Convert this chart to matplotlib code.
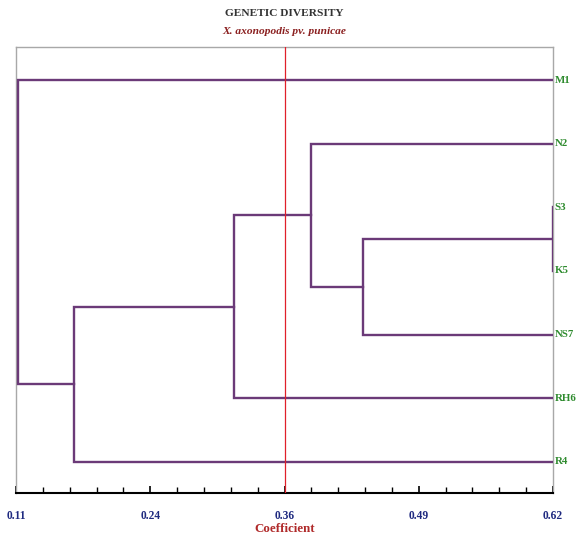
import matplotlib
matplotlib.use("Agg")
from matplotlib import pyplot as plt
import numpy as np

# leaves, top to bottom
leaves = ['M1', 'N2', 'S3', 'K5', 'NS7', 'RH6', 'R4']
# merges: (cluster a, cluster b, coefficient); clusters named by leaf or merge index
merge_a = ['S3', 0, 'N2', 2, 3, 'M1']
merge_b = ['K5', 'NS7', 1, 'RH6', 'R4', 4]
merge_coef = [0.62, 0.44, 0.39, 0.317, 0.165, 0.112]

tick_vals = [0.11, 0.2375, 0.365, 0.4925, 0.62]
tick_labels = ['0.11', '0.24', '0.36', '0.49', '0.62']
cut_value = 0.365

xmax = 0.62
line_col = '#6b3a78'
serif = ['Liberation Serif', 'DejaVu Serif']

fig = plt.figure(figsize=(5.78, 5.41), dpi=100)
ax = fig.add_axes([16/578, 1-493/541, 537/578, 446/541])

pos = {}
for i, name in enumerate(leaves):
	pos[name] = (xmax, i)

for k in range(len(merge_coef)):
	xa, ya = pos[merge_a[k]]
	xb, yb = pos[merge_b[k]]
	c = merge_coef[k]
	ax.plot([xa, c, c, xb], [ya, ya, yb, yb], color=line_col, lw=1.7,
			solid_joinstyle='miter', zorder=3)
	pos[k] = (c, (ya + yb) / 2.0)

ax.axvline(cut_value, color='#e0202a', lw=0.9, zorder=4)

ax.set_xlim(0.11, 0.62)
ax.set_ylim(6.49, -0.52)
ax.set_yticks([])

ax.set_xticks(tick_vals)
ax.set_xticklabels(tick_labels, family=serif, fontweight='bold', fontsize=8.3, color='#1f2a80')
ax.set_xticks(np.arange(0, 21) * 0.0255 + 0.11, minor=True)
ax.tick_params(axis='x', which='major', direction='in', length=5, width=1.2, pad=12, color='black')
ax.tick_params(axis='x', which='minor', direction='in', length=4, width=1.0, color='black')

for s in ['top', 'left', 'right']:
	ax.spines[s].set_color('#a8a8a8')
	ax.spines[s].set_linewidth(1.0)
ax.spines['bottom'].set_color('black')
ax.spines['bottom'].set_linewidth(1.5)

for i, name in enumerate(leaves):
	ax.text(1.003, i, name, transform=ax.get_yaxis_transform(), ha='left', va='center',
			family=serif, fontweight='bold', fontsize=7.8, color='#2e8b2e')

ax.set_xlabel('Coefficient', family=serif, fontweight='bold', fontsize=9.3, color='#b02a2a', labelpad=1)

fig.text(284/578, 1-14/541, 'GENETIC DIVERSITY', ha='center', va='center',
		 family=serif, fontweight='bold', fontsize=8.2, color='#333333')
fig.text(284/578, 1-32/541, 'X. axonopodis pv. punicae', ha='center', va='center',
		 family=serif, style='italic', fontweight='bold', fontsize=8.2, color='#8b2020')

plt.savefig('out.png', dpi=100)
